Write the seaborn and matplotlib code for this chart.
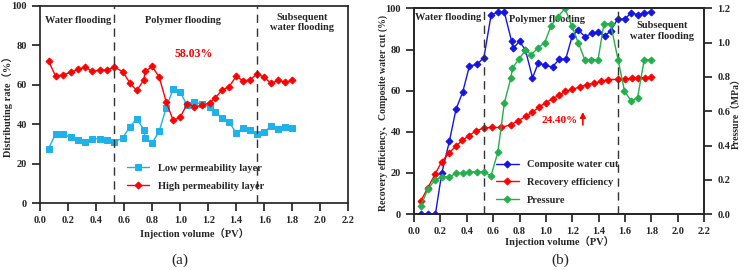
import seaborn as sns
from matplotlib import pyplot as plt

# (a) distributing rate
pv_low = [0.06, 0.11, 0.16, 0.22, 0.27, 0.32, 0.37, 0.43, 0.48, 0.53, 0.59, 0.64, 0.69, 0.74, 0.75,
          0.80, 0.85, 0.90, 0.95, 1.00, 1.05, 1.10, 1.155, 1.21, 1.25, 1.30, 1.35, 1.40, 1.45, 1.50,
          1.55, 1.60, 1.65, 1.70, 1.75, 1.80]
low_perm = [27.6, 35.1, 34.8, 33.4, 31.9, 31.0, 32.7, 32.4, 32.2, 31.0, 33.0, 38.7, 42.7, 37.3, 33.0,
            30.5, 36.4, 48.3, 58.0, 56.3, 49.5, 51.2, 50.2, 48.8, 46.3, 42.9, 41.0, 35.6, 38.1, 37.3,
            35.1, 36.1, 39.0, 37.7, 38.5, 38.0]
high_perm = [72.0, 64.4, 64.9, 66.4, 67.8, 69.0, 66.9, 67.4, 67.6, 69.0, 66.6, 61.0, 57.1, 62.4, 66.8,
             69.3, 63.9, 51.4, 41.9, 43.5, 50.3, 48.8, 49.5, 50.8, 53.4, 57.3, 59.0, 64.4, 61.9, 62.6,
             65.6, 63.7, 60.8, 62.2, 61.4, 62.2]

# (b) water cut / recovery / pressure
pv_wc = [0.053, 0.109, 0.162, 0.21, 0.268, 0.318, 0.369, 0.42, 0.478, 0.53, 0.584, 0.635, 0.685,
         0.74, 0.75, 0.80, 0.845, 0.898, 0.943, 0.996, 1.05, 1.10, 1.15, 1.20, 1.246, 1.297, 1.347,
         1.398, 1.448, 1.49, 1.544, 1.60, 1.645, 1.696, 1.747, 1.797]
water_cut = [0, 0, 0, 19.8, 35.4, 50.9, 59.3, 72.0, 72.8, 76.1, 96.7, 98.2, 98.0,
             84.0, 80.5, 84.0, 79.7, 66.3, 73.5, 72.3, 71.5, 75.3, 75.3, 86.8, 89.4, 86.2, 87.8,
             88.4, 86.6, 89.1, 94.8, 94.8, 97.9, 96.9, 97.6, 98.4]
pv_rec = [0.053, 0.104, 0.16, 0.21, 0.266, 0.316, 0.367, 0.417, 0.468, 0.53, 0.594, 0.657,
          0.733, 0.79, 0.847, 0.898, 0.948, 0.998, 1.05, 1.10, 1.148, 1.20, 1.256, 1.31, 1.365,
          1.42, 1.47, 1.55, 1.60, 1.65, 1.70, 1.75, 1.80]
recovery = [6.6, 12.7, 19.5, 25.5, 29.7, 33.0, 35.8, 38.2, 40.3, 42.0, 42.1, 42.1,
            43.4, 45.4, 47.5, 49.6, 52.0, 54.1, 56.1, 57.7, 59.7, 60.6, 61.8, 62.9, 63.7,
            64.5, 65.4, 65.5, 65.6, 66.0, 66.1, 66.3, 66.4]
pv_p = [0.053, 0.104, 0.16, 0.21, 0.265, 0.318, 0.37, 0.42, 0.478, 0.53, 0.584, 0.635, 0.685,
        0.735, 0.745, 0.795, 0.845, 0.89, 0.94, 0.99, 1.04, 1.09, 1.145, 1.195, 1.245, 1.295,
        1.345, 1.395, 1.44, 1.49, 1.547, 1.595, 1.645, 1.695, 1.745, 1.795]
pressure = [0.05, 0.145, 0.2, 0.218, 0.215, 0.238, 0.238, 0.247, 0.247, 0.245, 0.224, 0.36, 0.65,
            0.795, 0.85, 0.905, 0.955, 0.93, 0.97, 1.0, 1.10, 1.15, 1.2, 1.10, 1.0, 0.90,
            0.90, 0.90, 1.11, 1.11, 0.90, 0.72, 0.66, 0.68, 0.90, 0.90]

stages = [0.53, 1.55]

sns.set_theme(style="ticks")
plt.rcParams['font.family'] = ['Liberation Serif', 'Noto Sans CJK SC']
plt.rcParams['font.weight'] = 'bold'
plt.rcParams['axes.labelweight'] = 'bold'
plt.rcParams['xtick.labelsize'] = 7.5
plt.rcParams['ytick.labelsize'] = 7.5

fig = plt.figure(figsize=(7.44, 2.70), dpi=100)
ax1 = fig.add_axes([0.054, 0.248, 0.414, 0.730])
ax2 = fig.add_axes([0.5565, 0.207, 0.390, 0.762])

# ---- (a)
sns.lineplot(x=pv_low, y=low_perm, ax=ax1, color='#1EB1EA', marker='s', markersize=4.5,
             markeredgecolor='#1EB1EA', linewidth=1, sort=False, label='Low permeability layer')
sns.lineplot(x=pv_low, y=high_perm, ax=ax1, color='#FF0000', marker='D', markersize=3.5,
             markeredgecolor='#FF0000', linewidth=1, sort=False, label='High permeability layer')
for s in stages:
    ax1.axvline(s, color='#333333', linestyle=(0, (6, 4)), linewidth=1)
ax1.set_xlim(0, 2.2)
ax1.set_ylim(0, 100)
ax1.set_xticks([i * 0.2 for i in range(12)])
ax1.set_xticklabels([f'{i * 0.2:.1f}' for i in range(12)])
ax1.set_yticks(range(0, 101, 20))
ax1.set_xlabel('Injection volume（PV）', fontsize=7.5, labelpad=2)
ax1.set_ylabel('Distributing rate（%）', fontsize=7.5)
ax1.yaxis.set_label_coords(-0.088, 0.5)
ax1.text(0.27, 92.5, 'Water flooding', ha='center', va='center', fontsize=7.5)
ax1.text(1.02, 92.5, 'Polymer flooding', ha='center', va='center', fontsize=7.5)
ax1.text(1.87, 91.6, 'Subsequent\nwater flooding', ha='center', va='center', fontsize=7.5,
         linespacing=1.25)
ax1.text(1.10, 75.8, '58.03%', ha='center', va='center', fontsize=8.5, color='#FF0000')
ax1.legend(loc='lower left', bbox_to_anchor=(0.25, 0.015), frameon=False, fontsize=7.5,
           labelspacing=0.85, handlelength=2.2)

# ---- (b)
ax2r = ax2.twinx()
sns.lineplot(x=pv_wc, y=water_cut, ax=ax2, color='#1414E6', marker='D', markersize=3.5,
             markeredgecolor='#1414E6', linewidth=1, sort=False, label='Composite water cut')
sns.lineplot(x=pv_rec, y=recovery, ax=ax2, color='#FF0000', marker='D', markersize=3.5,
             markeredgecolor='#FF0000', linewidth=1, sort=False, label='Recovery efficiency')
sns.lineplot(x=pv_p, y=pressure, ax=ax2r, color='#22B04B', marker='D', markersize=3.5,
             markeredgecolor='#22B04B', linewidth=1, sort=False, label='Pressure')
for s in stages:
    ax2.axvline(s, color='#333333', linestyle=(0, (6, 4)), linewidth=1)
ax2.set_xlim(0, 2.2)
ax2.set_ylim(0, 100)
ax2r.set_ylim(0, 1.2)
ax2.set_xticks([i * 0.2 for i in range(12)])
ax2.set_xticklabels([f'{i * 0.2:.1f}' for i in range(12)])
ax2.set_yticks(range(0, 101, 20))
ax2r.set_yticks([i * 0.2 for i in range(7)])
ax2r.set_yticklabels([f'{i * 0.2:.1f}' for i in range(7)])
ax2.set_xlabel('Injection volume（PV）', fontsize=7.5, labelpad=0)
ax2.set_ylabel('Recovery efficiency、Composite water cut (%)', fontsize=7)
ax2.yaxis.set_label_coords(-0.09, 0.49)
ax2r.set_ylabel('Pressure（MPa）', fontsize=7, labelpad=1)
ax2.text(0.01, 95.4, 'Water flooding', ha='left', va='center', fontsize=7.5)
ax2.text(1.01, 94.6, 'Polymer flooding', ha='center', va='center', fontsize=7.5)
ax2.text(1.88, 88.9, 'Subsequent\nwater flooding', ha='center', va='center', fontsize=7.5,
         linespacing=1.25)
ax2.text(1.10, 45.6, '24.40%', ha='center', va='center', fontsize=8, color='#FF0000')
ax2.annotate('', xy=(1.28, 51), xytext=(1.28, 42),
             arrowprops=dict(arrowstyle='-|>', color='#FF0000', lw=1.2, mutation_scale=8))
h1, l1 = ax2.get_legend_handles_labels()
h2, l2 = ax2r.get_legend_handles_labels()
if ax2r.get_legend():
    ax2r.get_legend().remove()
ax2.legend(h1 + h2, l1 + l2, loc='lower left', bbox_to_anchor=(0.25, 0.0), frameon=False,
           fontsize=7.5, labelspacing=0.8, handlelength=2.2)

fig.text(0.242, 0.035, '(a)', ha='center', va='center', fontsize=11, fontweight='normal')
fig.text(0.753, 0.035, '(b)', ha='center', va='center', fontsize=11, fontweight='normal')

fig.savefig('out.png', dpi=100)
